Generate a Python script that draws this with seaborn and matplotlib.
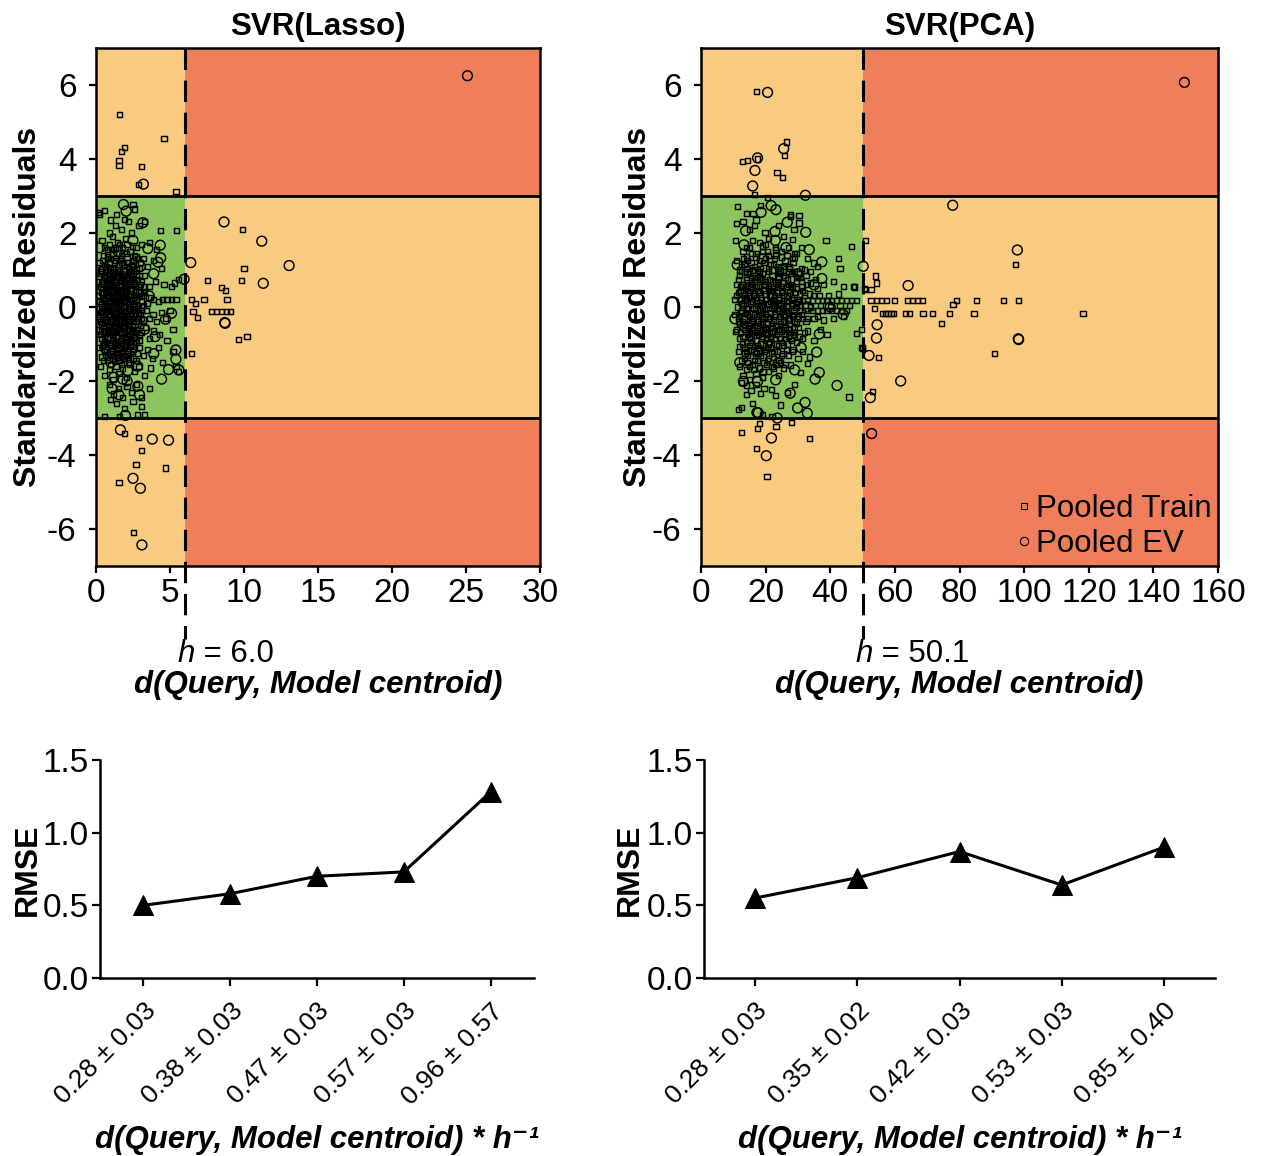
import numpy as np
import pandas as pd
import matplotlib
matplotlib.use("Agg")
import matplotlib.pyplot as plt
import matplotlib.transforms as mtransforms
from matplotlib.lines import Line2D
import seaborn as sns

# ---------------- data ----------------
h_lasso = 6.0
h_pca = 50.1

lasso_train = [
    (1.6, 5.2), (4.6, 4.55), (1.7, 4.2), (1.9, 4.3), (1.55, 3.97), (1.55, 3.83), (3.05, 3.8), (2.85, 3.32), (5.4, 3.13),
    (9.9, 2.1), (10.0, 1.05), (7.55, 0.72), (9.85, 0.72), (8.5, 0.52), (8.75, 0.45), (8.85, 0.2), (7.3, 0.2), (6.45, 0.2),
    (6.7, 0.1), (6.55, -0.12), (6.85, -0.28), (7.8, -0.12), (8.15, -0.12), (8.5, -0.12), (8.8, -0.12), (9.1, -0.12),
    (9.65, -0.88), (10.2, -0.8), (6.45, -1.25),
    (1.95, -3.42), (2.85, -3.53), (3.1, -3.87), (2.7, -4.26), (4.7, -4.35), (1.55, -4.74), (2.55, -6.1),
    (0.25, 2.5), (1.0, 2.35), (1.3, 2.2), (1.9, 2.36), (2.5, 2.78), (2.6, 2.65), (4.35, 2.06), (5.45, 2.06), (0.15, 2.55),
    (0.6, 2.6), (1.4, 2.5), (2.2, 2.3), (0.9, 2.0), (1.7, 2.1), (2.9, 2.2), (3.3, 2.3), (2.4, 2.0),
    (0.4, 1.8), (1.1, 1.9), (1.6, 1.7), (2.0, 1.85), (2.7, 1.6), (3.1, 1.7), (0.8, 1.55), (1.3, 1.6), (2.3, 1.5), (3.6, 1.75), (4.1, 1.55),
    (0.2, 1.2), (0.5, 1.4), (0.7, 1.1), (1.0, 1.3), (1.2, 1.05), (1.5, 1.45), (1.7, 1.2), (1.9, 1.0), (2.1, 1.35), (2.4, 1.15),
    (2.6, 1.4), (2.9, 1.05), (3.2, 1.3), (3.5, 1.1), (3.9, 1.25), (4.4, 1.05), (0.35, 1.0), (1.35, 1.25), (2.2, 1.1), (2.8, 1.3),
    (0.1, 0.7), (0.3, 0.9), (0.5, 0.6), (0.65, 0.85), (0.8, 0.55), (0.95, 0.75), (1.1, 0.95), (1.25, 0.6), (1.4, 0.8), (1.55, 0.55),
    (1.7, 0.9), (1.85, 0.7), (2.0, 0.5), (2.15, 0.8), (2.3, 0.65), (2.5, 0.9), (2.65, 0.55), (2.8, 0.75), (3.0, 0.6), (3.3, 0.85),
    (3.6, 0.55), (4.0, 0.7), (4.6, 0.6), (5.1, 0.55), (5.3, 0.65), (5.6, 0.75), (0.45, 0.5), (1.0, 0.55), (1.6, 0.7), (2.4, 0.5),
    (0.1, 0.3), (0.25, 0.15), (0.4, 0.4), (0.55, 0.05), (0.7, 0.3), (0.85, 0.45), (1.0, 0.1), (1.15, 0.35), (1.3, 0.2), (1.45, 0.45),
    (1.6, 0.05), (1.75, 0.3), (1.9, 0.15), (2.05, 0.4), (2.2, 0.1), (2.35, 0.3), (2.5, 0.2), (2.65, 0.45), (2.8, 0.05), (2.95, 0.3),
    (3.1, 0.15), (3.3, 0.4), (3.5, 0.1), (3.7, 0.25), (3.9, 0.2), (4.2, 0.15), (4.5, 0.2), (4.8, 0.2), (5.1, 0.2), (5.4, 0.2),
    (0.5, 0.25), (1.2, 0.0), (1.8, 0.45), (2.6, 0.0), (3.2, 0.05),
    (0.1, -0.2), (0.3, -0.4), (0.45, -0.1), (0.6, -0.35), (0.75, -0.05), (0.9, -0.25), (1.05, -0.45), (1.2, -0.15), (1.35, -0.3),
    (1.5, -0.05), (1.65, -0.4), (1.8, -0.2), (1.95, -0.35), (2.1, -0.1), (2.25, -0.45), (2.4, -0.2), (2.55, -0.3), (2.7, -0.1),
    (2.85, -0.4), (3.0, -0.2), (3.2, -0.35), (3.4, -0.1), (3.6, -0.3), (3.85, -0.2), (4.1, -0.4), (4.4, -0.15), (4.7, -0.3),
    (5.0, -0.1), (0.2, -0.05), (1.0, -0.1), (1.7, -0.25), (2.3, -0.05),
    (0.15, -0.6), (0.35, -0.85), (0.5, -0.55), (0.7, -0.95), (0.85, -0.7), (1.0, -0.6), (1.15, -0.9), (1.3, -0.65), (1.45, -0.8),
    (1.6, -0.55), (1.75, -1.0), (1.9, -0.7), (2.05, -0.85), (2.2, -0.6), (2.35, -0.95), (2.5, -0.75), (2.7, -0.6), (2.9, -0.9),
    (3.1, -0.7), (3.35, -0.55), (3.6, -0.85), (3.9, -0.65), (4.3, -0.75), (4.8, -0.9), (5.2, -0.6), (0.6, -0.7), (1.4, -0.95), (2.6, -0.8),
    (0.2, -1.1), (0.4, -1.35), (0.6, -1.2), (0.8, -1.45), (1.0, -1.05), (1.2, -1.3), (1.4, -1.15), (1.6, -1.45), (1.8, -1.2),
    (2.0, -1.05), (2.2, -1.35), (2.45, -1.2), (2.7, -1.45), (2.95, -1.1), (3.2, -1.3), (3.5, -1.15), (3.8, -1.4), (4.2, -1.1),
    (4.5, -1.5), (5.2, -1.2), (0.5, -1.0), (1.5, -1.25),
    (0.3, -1.6), (0.6, -1.85), (0.9, -1.7), (1.15, -1.95), (1.35, -1.6), (1.55, -1.8), (1.8, -1.65), (2.05, -1.9), (2.3, -1.55),
    (2.6, -1.75), (2.9, -1.6), (3.3, -1.85), (3.7, -1.65), (5.4, -1.6), (5.6, -1.75),
    (0.9, -2.1), (1.2, -2.35), (1.5, -2.2), (1.8, -2.45), (2.1, -2.15), (2.4, -2.3), (2.75, -2.1), (3.1, -2.45), (3.6, -2.2), (1.0, -2.5),
    (1.4, -2.6), (1.9, -2.75), (2.5, -2.55), (3.05, -2.7), (3.3, -2.9), (1.6, -2.95), (0.6, -2.95), (2.8, -2.9),
]

lasso_train_core = [
    (0.35, 0.95), (0.55, 1.15), (0.75, 1.35), (0.95, 1.05), (1.15, 1.45), (1.35, 0.9), (1.55, 1.15), (1.75, 1.4), (1.95, 0.85),
    (2.15, 1.2), (2.35, 0.95), (2.55, 1.25), (2.75, 1.0),
    (0.4, 0.65), (0.6, 0.8), (0.8, 0.95), (1.0, 0.7), (1.2, 0.85), (1.4, 0.6), (1.6, 0.95), (1.8, 0.8), (2.0, 0.65), (2.2, 0.95),
    (2.4, 0.75), (2.6, 0.65), (2.9, 0.85), (3.1, 0.7),
    (0.3, 0.55), (0.5, 0.35), (0.7, 0.5), (0.9, 0.3), (1.1, 0.55), (1.3, 0.4), (1.5, 0.25), (1.7, 0.6), (1.9, 0.35), (2.1, 0.55),
    (2.3, 0.45), (2.5, 0.6), (2.7, 0.3), (2.9, 0.55),
    (0.35, 0.1), (0.6, 0.2), (0.8, 0.05), (1.05, 0.25), (1.25, 0.1), (1.45, 0.15), (1.65, 0.2), (1.85, 0.0), (2.05, 0.15),
    (2.25, 0.2), (2.45, 0.05), (2.75, 0.2), (3.05, 0.0),
    (0.3, -0.15), (0.5, -0.25), (0.7, -0.1), (0.95, -0.2), (1.15, -0.05), (1.3, -0.15), (1.55, -0.2), (1.75, -0.1), (1.95, -0.15),
    (2.15, -0.25), (2.35, -0.1), (2.6, -0.2), (2.85, -0.15),
    (0.4, -0.45), (0.6, -0.55), (0.8, -0.4), (1.0, -0.35), (1.2, -0.5), (1.4, -0.45), (1.6, -0.3), (1.8, -0.5), (2.0, -0.45),
    (2.2, -0.35), (2.45, -0.5), (2.7, -0.4), (3.0, -0.5),
    (0.3, -0.75), (0.55, -0.8), (0.75, -0.7), (0.95, -0.85), (1.2, -0.75), (1.35, -0.8), (1.55, -0.7), (1.7, -0.85), (1.95, -0.8),
    (2.15, -0.75), (2.4, -0.65), (2.65, -0.7), (2.9, -0.75),
    (0.45, -1.05), (0.7, -1.15), (0.9, -1.0), (1.1, -1.2), (1.3, -1.05), (1.5, -1.1), (1.7, -1.25), (1.9, -1.1), (2.1, -1.2),
    (2.3, -1.05), (2.55, -1.15), (2.8, -1.25),
    (0.5, -1.45), (0.75, -1.35), (1.0, -1.55), (1.25, -1.45), (1.45, -1.35), (1.7, -1.55), (1.95, -1.4), (2.2, -1.5), (2.5, -1.4),
    (0.6, 1.6), (0.9, 1.7), (1.2, 1.55), (1.45, 1.75), (1.8, 1.6), (2.1, 1.7), (2.45, 1.65),
    (1.3, 0.45), (1.6, -0.6), (0.85, 0.6), (2.25, -0.6), (1.05, -0.65), (1.75, 0.45), (0.65, -0.25), (2.0, 0.25), (1.4, -0.25), (0.9, 1.2),
    (0.45, 1.25), (0.65, 1.0), (0.85, 1.3), (1.05, 1.55), (1.25, 1.2), (1.45, 1.0), (1.65, 1.3), (1.85, 1.15), (2.05, 1.45),
    (2.25, 1.05), (2.5, 1.1), (2.7, 1.35), (3.0, 1.2),
    (0.5, 0.8), (0.7, 0.7), (0.9, 0.9), (1.1, 0.8), (1.3, 0.7), (1.5, 0.85), (1.7, 0.75), (1.9, 0.6), (2.1, 0.75), (2.3, 0.85),
    (2.5, 0.7), (2.75, 0.85), (3.2, 0.55),
    (0.45, 0.2), (0.65, 0.4), (0.85, 0.15), (1.05, 0.45), (1.2, 0.3), (1.4, 0.35), (1.6, 0.4), (1.8, 0.25), (2.0, 0.4),
    (2.2, 0.3), (2.4, 0.35), (2.6, 0.25), (2.85, 0.4), (3.2, 0.3),
    (0.4, -0.05), (0.6, 0.0), (0.85, -0.1), (1.1, 0.05), (1.35, 0.0), (1.55, 0.05), (1.75, 0.1), (1.95, 0.05), (2.2, -0.05),
    (2.5, 0.1), (2.8, -0.05), (3.1, -0.1),
    (0.45, -0.3), (0.7, -0.4), (0.9, -0.5), (1.1, -0.3), (1.3, -0.4), (1.5, -0.35), (1.7, -0.45), (1.9, -0.3), (2.1, -0.4),
    (2.3, -0.3), (2.55, -0.4), (2.8, -0.3), (3.1, -0.3),
    (0.4, -0.65), (0.65, -0.65), (0.85, -0.6), (1.1, -0.7), (1.3, -0.55), (1.5, -0.6), (1.7, -0.7), (1.9, -0.55), (2.1, -0.65),
    (2.3, -0.8), (2.55, -0.6), (2.8, -0.6),
    (0.55, -0.95), (0.8, -0.85), (1.0, -0.95), (1.25, -0.95), (1.45, -1.0), (1.65, -0.9), (1.85, -0.95), (2.05, -1.0),
    (2.3, -0.9), (2.5, -1.0), (2.75, -0.95),
    (0.65, -1.3), (0.95, -1.25), (1.15, -1.4), (1.4, -1.25), (1.6, -1.35), (1.85, -1.3), (2.05, -1.3), (2.35, -1.25),
]

lasso_ev = [
    (25.1, 6.25), (3.2, 3.32), (8.65, 2.3), (11.2, 1.78), (13.05, 1.12), (6.4, 1.2), (5.95, 0.75), (11.3, 0.64),
    (8.7, -0.42), (8.72, -0.44), (1.65, -3.32), (3.8, -3.57), (4.9, -3.6), (2.5, -4.63), (3.0, -4.9), (3.1, -6.43),
    (3.17, 2.28), (3.5, 1.58), (4.34, 1.67), (4.37, 1.33), (4.19, 1.21), (0.23, 1.6), (3.9, -1.26), (5.4, -1.16),
    (5.4, -1.41), (4.9, -1.69), (4.43, -1.95), (5.6, -1.7), (5.1, -0.17), (4.7, -0.33), (2.83, -2.14), (2.94, -2.37),
    (1.54, -2.37), (1.09, -2.21), (1.81, -1.95), (2.15, -1.72), (1.86, 2.77), (2.04, 2.59), (1.99, -2.93),
    (0.8, 0.2), (1.3, -0.6), (2.0, 0.9), (1.1, 1.2), (2.6, -0.9), (1.7, 0.5), (0.6, -1.1), (2.3, -0.3), (1.5, 1.5),
    (2.9, 0.4), (0.4, -0.3), (1.9, -1.3), (3.3, -0.6), (2.5, 1.8), (1.2, -1.9), (3.0, 1.1), (0.9, 0.8), (2.1, -2.0),
    (3.6, 0.3), (1.6, -0.2), (4.0, -0.8), (2.8, -1.6), (3.9, 0.9), (1.0, -1.5), (0.5, 1.0),
]

pca_train = [
    (17.2, 5.83), (26.4, 4.46), (25.9, 4.09), (12.8, 3.93), (14.4, 3.96), (17.6, 4.0), (23.5, 3.63), (25.2, 3.49), (16.6, 3.05),
    (12.6, -3.4), (17.4, -3.28), (18.2, -3.14), (23.2, -3.22), (28.0, -3.12), (33.5, -3.56), (17.3, -3.82), (20.4, -4.59),
    (97.3, 1.14), (54.0, 0.84), (54.3, 0.65), (52.6, 0.48), (50.5, 0.5), (47.2, 0.56),
    (52.6, 0.18), (54.2, 0.18), (55.8, 0.18), (57.4, 0.18), (59.8, 0.18), (63.8, 0.18), (65.4, 0.18), (67.0, 0.18),
    (68.6, 0.18), (79.0, 0.18), (85.2, 0.18), (93.7, 0.18), (98.2, 0.18), (78.0, 0.07),
    (56.2, -0.17), (57.1, -0.17), (57.9, -0.17), (58.8, -0.17), (59.6, -0.17), (63.4, -0.17), (64.6, -0.17), (68.7, -0.17),
    (71.6, -0.17), (77.0, -0.17), (84.5, -0.17), (118.2, -0.17),
    (74.5, -0.45), (90.9, -1.26), (54.9, -1.37), (53.1, -2.29), (45.8, -2.43), (53.6, -0.05), (49.8, -1.1),
    (48.0, -0.71), (49.7, -0.6), (49.9, -1.12), (10.8, -0.66), (11.9, -1.07),
    (11.4, 2.72), (14.1, 2.53), (16.1, 2.53), (17.0, 2.35), (16.5, 2.2), (27.6, 2.51), (30.3, 2.47), (30.3, 2.27), (27.8, 2.45),
    (11.0, 2.26), (13.0, 2.3), (15.0, 2.1), (19.8, 2.02), (25.5, 1.9), (28.8, 2.09), (28.2, 1.83), (38.7, 1.79), (46.6, 1.64),
    (51.0, 1.79), (42.5, 1.3), (43.0, 1.05), (47.4, 0.54), (51.0, 0.47), (10.8, 1.79), (11.0, 1.25), (29.6, 1.45), (34.7, 1.19),
    (18.0, 1.75), (21.0, 1.85), (23.0, 1.6), (14.0, 1.6), (16.0, 1.8), (24.0, 2.2), (18.5, 2.75), (20.5, 2.95),
    (12.5, 1.1), (14.0, 1.35), (15.5, 1.2), (17.0, 1.45), (18.5, 1.05), (20.0, 1.3), (21.5, 1.15), (23.0, 1.4), (24.5, 1.0),
    (26.0, 1.25), (27.5, 1.1), (29.0, 1.35), (31.0, 1.05), (33.0, 1.3), (36.0, 1.1), (16.0, 1.0), (19.0, 1.5), (22.0, 1.0),
    (11.0, 0.6), (12.0, 0.85), (13.0, 0.55), (14.0, 0.75), (15.0, 0.95), (16.0, 0.6), (17.0, 0.8), (18.0, 0.55), (19.0, 0.9),
    (20.0, 0.7), (21.0, 0.5), (22.0, 0.85), (23.0, 0.65), (24.0, 0.95), (25.0, 0.55), (26.0, 0.8), (27.0, 0.6), (28.0, 0.9),
    (29.5, 0.7), (31.0, 0.55), (32.5, 0.85), (34.0, 0.65), (35.5, 0.75), (38.0, 0.6), (41.0, 0.7), (44.0, 0.55), (13.5, 0.95),
    (18.0, 0.75), (24.0, 0.7),
    (10.5, 0.2), (11.5, 0.4), (12.5, 0.1), (13.5, 0.3), (14.5, 0.45), (15.5, 0.15), (16.5, 0.35), (17.5, 0.05), (18.5, 0.25),
    (19.5, 0.45), (20.5, 0.1), (21.5, 0.3), (22.5, 0.2), (23.5, 0.4), (24.5, 0.05), (25.5, 0.3), (26.5, 0.15), (27.5, 0.4),
    (28.5, 0.2), (29.5, 0.1), (30.5, 0.35), (31.5, 0.18), (33.0, 0.18), (34.5, 0.18), (36.0, 0.18), (37.5, 0.18), (39.0, 0.18),
    (40.5, 0.18), (42.0, 0.18), (43.5, 0.18), (45.0, 0.18), (46.5, 0.18), (48.0, 0.18), (32.0, 0.4), (35.0, 0.3), (14.0, 0.2),
    (19.0, 0.0), (23.0, 0.1),
    (10.5, -0.2), (11.5, -0.4), (12.5, -0.1), (13.5, -0.3), (14.5, -0.05), (15.5, -0.45), (16.5, -0.2), (17.5, -0.35),
    (18.5, -0.1), (19.5, -0.3), (20.5, -0.45), (21.5, -0.15), (22.5, -0.35), (23.5, -0.05), (24.5, -0.25), (25.5, -0.4),
    (26.5, -0.1), (27.5, -0.3), (28.5, -0.2), (29.5, -0.45), (30.5, -0.1), (31.5, -0.3), (33.0, -0.1), (34.5, -0.1),
    (36.0, -0.1), (37.5, -0.1), (39.0, -0.1), (40.5, -0.1), (42.0, -0.1), (43.5, -0.1), (45.0, -0.1), (32.5, -0.4),
    (35.0, -0.3), (38.0, -0.35), (41.0, -0.3), (44.0, -0.25),
    (11.0, -0.6), (12.0, -0.85), (13.0, -0.55), (14.0, -0.95), (15.0, -0.7), (16.0, -0.6), (17.0, -0.9), (18.0, -0.65),
    (19.0, -0.8), (20.0, -0.55), (21.0, -1.0), (22.0, -0.7), (23.0, -0.85), (24.0, -0.6), (25.0, -0.95), (26.0, -0.75),
    (27.0, -0.6), (28.0, -0.9), (29.0, -0.7), (30.0, -0.55), (31.5, -0.85), (33.0, -0.65), (35.0, -0.9), (37.0, -0.6),
    (39.0, -0.75), (15.5, -0.85), (20.5, -0.75),
    (11.5, -1.2), (12.5, -1.45), (13.5, -1.1), (14.5, -1.3), (15.5, -1.15), (16.5, -1.45), (17.5, -1.05), (18.5, -1.3),
    (19.5, -1.2), (20.5, -1.45), (21.5, -1.1), (22.5, -1.35), (23.5, -1.2), (24.5, -1.5), (25.5, -1.05), (27.0, -1.3),
    (28.5, -1.15), (30.0, -1.4), (31.5, -1.2), (33.5, -1.35),
    (12.0, -1.6), (13.0, -1.85), (14.0, -1.7), (15.0, -1.95), (16.0, -1.55), (17.0, -1.8), (18.0, -1.65), (19.0, -1.9),
    (20.8, -1.74), (22.0, -1.6), (24.0, -1.85), (25.5, -1.65), (27.8, -1.57), (30.7, -1.77), (32.9, -1.52),
    (12.5, -2.05), (14.1, -2.13), (14.1, -2.37), (15.5, -2.25), (17.0, -2.1), (18.5, -2.33), (19.5, -2.2), (21.7, -2.22),
    (23.0, -2.4), (26.7, -2.31), (29.0, -2.1),
    (12.6, -2.71), (11.6, -2.77), (16.0, -2.6), (19.0, -2.9), (22.0, -2.95), (24.5, -2.65),
]

pca_train_core = [
    (13.0, 1.5), (15.0, 1.6), (17.0, 1.35), (19.0, 1.65), (21.0, 1.4), (23.0, 1.55), (25.0, 1.35), (27.0, 1.6), (29.0, 1.45),
    (31.0, 1.6), (14.5, 1.25), (20.0, 1.7),
    (12.0, 1.0), (13.5, 1.15), (15.0, 0.9), (16.5, 1.1), (18.0, 0.95), (19.5, 1.2), (21.0, 0.95), (22.5, 1.15), (24.0, 0.9),
    (25.5, 1.1), (27.0, 0.95), (28.5, 1.2), (30.0, 0.9), (32.0, 1.0), (34.0, 0.95),
    (11.5, 0.75), (12.8, 0.6), (14.2, 0.8), (15.6, 0.65), (17.0, 0.55), (18.4, 0.8), (19.8, 0.6), (21.2, 0.75), (22.6, 0.55),
    (24.0, 0.8), (25.4, 0.65), (26.8, 0.75), (28.2, 0.55), (29.6, 0.8), (31.0, 0.7), (33.0, 0.6), (36.0, 0.5),
    (11.0, 0.3), (12.3, 0.45), (13.6, 0.25), (14.9, 0.4), (16.2, 0.3), (17.5, 0.45), (18.8, 0.2), (20.1, 0.35), (21.4, 0.45),
    (22.7, 0.3), (24.0, 0.25), (25.3, 0.45), (26.6, 0.3), (27.9, 0.25), (29.2, 0.4), (30.5, 0.2), (33.5, 0.35), (36.5, 0.3),
    (39.5, 0.3), (42.5, 0.35),
    (11.2, 0.0), (12.6, 0.1), (14.0, -0.05), (15.4, 0.1), (16.8, 0.0), (18.2, 0.12), (19.6, -0.05), (21.0, 0.08), (22.4, 0.0),
    (23.8, 0.1), (25.2, -0.05), (26.6, 0.05), (28.0, 0.1), (29.4, -0.02), (30.8, 0.05), (32.2, 0.05), (34.0, 0.0), (37.0, 0.05),
    (40.0, 0.02), (43.0, 0.05), (46.0, 0.05),
    (11.5, -0.25), (12.9, -0.4), (14.3, -0.2), (15.7, -0.35), (17.1, -0.25), (18.5, -0.45), (19.9, -0.2), (21.3, -0.3),
    (22.7, -0.2), (24.1, -0.4), (25.5, -0.25), (26.9, -0.35), (28.3, -0.25), (29.7, -0.3), (31.1, -0.2), (33.0, -0.3), (36.0, -0.25),
    (12.2, -0.7), (13.6, -0.6), (15.0, -0.8), (16.4, -0.55), (17.8, -0.75), (19.2, -0.6), (20.6, -0.85), (22.0, -0.55),
    (23.4, -0.75), (24.8, -0.65), (26.2, -0.85), (27.6, -0.7), (29.0, -0.55), (30.4, -0.8), (32.0, -0.7),
    (12.8, -1.0), (14.2, -1.2), (15.6, -0.95), (17.0, -1.25), (18.4, -1.0), (19.8, -1.15), (21.2, -0.95), (22.6, -1.2),
    (24.0, -1.05), (25.4, -1.25), (26.8, -1.0), (28.2, -1.2), (29.6, -0.95),
    (13.5, -1.4), (15.0, -1.6), (16.5, -1.45), (18.0, -1.65), (19.5, -1.5), (21.0, -1.4), (22.5, -1.65), (24.0, -1.45), (26.0, -1.55),
    (13.2, 1.3), (15.8, 1.45), (18.2, 1.25), (20.6, 1.5), (22.8, 1.3), (24.8, 1.5), (26.6, 1.4), (28.4, 1.3),
    (12.6, 0.95), (14.0, 1.05), (15.8, 0.8), (17.4, 1.0), (19.0, 0.75), (20.8, 1.05), (22.2, 0.7), (23.8, 1.1), (25.6, 0.85),
    (27.4, 1.05), (29.0, 0.95), (30.8, 0.8),
    (12.2, 0.55), (13.8, 0.5), (15.2, 0.55), (16.6, 0.7), (18.0, 0.4), (19.4, 0.6), (20.8, 0.55), (22.2, 0.45), (23.6, 0.6),
    (25.0, 0.4), (26.4, 0.55), (27.8, 0.6), (29.4, 0.5), (31.5, 0.45),
    (12.0, 0.2), (13.2, 0.05), (14.6, 0.25), (16.0, 0.15), (17.2, 0.25), (18.6, 0.05), (20.0, 0.2), (21.4, 0.15), (22.8, 0.05),
    (24.2, 0.2), (25.6, 0.1), (27.0, 0.25), (28.4, 0.05), (30.0, 0.15),
    (12.4, -0.15), (13.8, -0.15), (15.0, -0.25), (16.4, -0.05), (17.8, -0.2), (19.0, -0.15), (20.4, -0.25), (21.8, -0.05),
    (23.0, -0.25), (24.4, -0.1), (25.8, -0.2), (27.2, -0.15), (28.8, -0.1), (30.2, -0.25),
    (12.0, -0.45), (13.4, -0.5), (14.8, -0.55), (16.2, -0.4), (17.6, -0.55), (19.0, -0.4), (20.4, -0.6), (21.8, -0.45),
    (23.2, -0.5), (24.6, -0.45), (26.0, -0.55), (27.4, -0.45), (29.0, -0.4),
    (13.0, -0.8), (14.4, -0.75), (15.8, -0.65), (17.2, -0.7), (18.6, -0.85), (20.0, -0.7), (21.4, -0.8), (22.8, -0.65),
    (24.2, -0.85), (25.6, -0.6), (27.0, -0.8), (28.6, -0.75),
    (13.6, -1.25), (15.0, -1.05), (16.4, -1.2), (17.8, -1.1), (19.2, -1.35), (20.6, -1.1), (22.0, -1.25), (23.4, -1.0),
    (24.8, -1.3), (26.4, -1.15),
    (14.4, -1.5), (16.2, -1.7), (17.6, -1.45), (19.2, -1.75), (20.2, -1.55), (23.2, -1.55),
]

pca_ev = [
    (149.6, 6.07), (20.6, 5.8), (25.6, 4.28), (17.5, 4.03), (16.7, 3.69), (16.0, 3.27), (32.3, 3.02), (77.9, 2.75),
    (97.9, 1.54), (50.2, 1.1), (64.1, 0.58), (54.5, -0.48), (54.3, -0.84), (98.2, -0.86), (98.3, -0.88), (52.0, -1.31),
    (61.8, -2.0), (52.4, -2.45), (42.1, -2.12), (52.8, -3.42), (23.6, -3.0), (21.8, -3.54), (20.2, -4.02), (17.3, -2.85),
    (21.7, 2.74), (23.2, 2.63), (18.6, 2.56), (26.7, 2.29), (13.8, 2.06), (22.9, 2.04), (32.4, 2.02), (13.3, 1.68),
    (26.3, 1.61), (33.5, 1.55), (37.4, 1.22), (37.4, 0.77), (11.2, 1.14), (10.5, -0.32), (36.6, -0.73), (35.8, -1.22),
    (36.6, -1.77), (35.3, -1.95), (23.1, -1.97), (13.1, -2.01), (17.5, -2.01), (27.6, -2.33), (32.2, -2.58),
    (29.9, -2.73), (32.9, -2.87), (17.7, -2.86),
    (15.0, 0.5), (20.0, -0.5), (25.0, 1.0), (18.0, -1.2), (22.0, 0.3), (28.0, -0.8), (14.0, -0.3), (30.0, 0.9),
    (24.0, -1.5), (19.0, 1.3), (26.0, -0.2), (16.0, 0.9), (31.0, -1.1), (21.0, -0.9), (13.0, 0.4), (27.0, 0.5),
    (33.0, 0.0), (17.0, -0.6), (23.0, 1.8), (29.0, -1.7), (40.0, 0.0), (44.0, -0.2), (12.0, -1.5), (35.0, 0.6),
]

rmse_lasso_labels = ["0.28 ± 0.03", "0.38 ± 0.03", "0.47 ± 0.03", "0.57 ± 0.03", "0.96 ± 0.57"]
rmse_lasso = [0.50, 0.58, 0.70, 0.73, 1.28]
rmse_pca_labels = ["0.28 ± 0.03", "0.35 ± 0.02", "0.42 ± 0.03", "0.53 ± 0.03", "0.85 ± 0.40"]
rmse_pca = [0.55, 0.69, 0.87, 0.64, 0.90]

# ---------------- style ----------------
sns.set_theme(style="white")
FAM = ["Liberation Sans", "DejaVu Sans"]
plt.rcParams["font.family"] = FAM
plt.rcParams["axes.unicode_minus"] = False
for k in ["text.color", "axes.labelcolor", "xtick.color", "ytick.color", "axes.edgecolor"]:
    plt.rcParams[k] = "black"
plt.rcParams["axes.linewidth"] = 1.6
plt.rcParams["xtick.major.width"] = 1.6
plt.rcParams["ytick.major.width"] = 1.6

YELLOW = "#F9CB80"
RED = "#EE7F5A"
GREEN = "#8CC45E"
FS = 22.5
TFS = 24

W, H = 1262, 1156
fig = plt.figure(figsize=(W / 100, H / 100), dpi=100)


def px_axes(l, r, t, b):
    return fig.add_axes([l / W, (H - b) / H, (r - l) / W, (b - t) / H])


def scatter_panel(ax, train, train_core, ev, h, xmax, xticks, title, ylab_x, show_legend=False):
    ax.set_xlim(0, xmax)
    ax.set_ylim(-7, 7)
    ax.axhspan(-7, 7, color=YELLOW, zorder=0, lw=0)
    fr = h / xmax
    ax.axhspan(3, 7, xmin=fr, xmax=1, color=RED, zorder=0.5, lw=0)
    ax.axhspan(-7, -3, xmin=fr, xmax=1, color=RED, zorder=0.5, lw=0)
    ax.axhspan(-3, 3, xmin=0, xmax=fr, color=GREEN, zorder=0.5, lw=0)
    ax.axhline(3, color="black", lw=2.0, zorder=1)
    ax.axhline(-3, color="black", lw=2.0, zorder=1)
    trans = mtransforms.blended_transform_factory(ax.transData, ax.transAxes)
    ax.plot([h, h], [1, -0.14], transform=trans, color="black", lw=2.2,
            linestyle=(0, (7, 3.5)), clip_on=False, zorder=1)

    dt = pd.DataFrame(list(train) + list(train_core), columns=["d", "res"])
    de = pd.DataFrame(ev, columns=["d", "res"])
    sns.scatterplot(data=dt, x="d", y="res", marker="s", s=14, facecolor="none",
                    edgecolor="black", linewidth=1.05, ax=ax, zorder=3)
    sns.scatterplot(data=de, x="d", y="res", marker="o", s=50, facecolor="none",
                    edgecolor="black", linewidth=1.05, ax=ax, zorder=3)

    ax.set_xticks(xticks)
    ax.set_yticks([-6, -4, -2, 0, 2, 4, 6])
    ax.tick_params(axis="both", labelsize=TFS, length=5, direction="out",
                   left=True, bottom=True)
    ax.tick_params(axis="y", pad=9)
    ax.tick_params(axis="x", pad=4)
    for s in ax.spines.values():
        s.set_color("black")
        s.set_linewidth(1.8)
        s.set_zorder(5)
    ax.set_xlabel("")
    ax.set_ylabel("")
    ax.set_title(title, fontsize=FS, fontweight="bold", pad=9)
    ax.text(ylab_x, 0.5, "Standardized Residuals", transform=ax.transAxes,
            rotation=90, ha="center", va="center", fontsize=23, fontweight="bold")
    # h label: italic h followed by regular text
    tx = ax.annotate("h", xy=(h, -0.17), xycoords=trans, xytext=(-7, 0),
                     textcoords="offset pixels", ha="left", va="center",
                     fontsize=FS, fontstyle="italic")
    ax.annotate(f" = {h:.1f}", xy=(1, 0.5), xycoords=tx, xytext=(0, 0),
                textcoords="offset pixels", ha="left", va="center", fontsize=FS)
    ax.text(0.5, -0.23, "d(Query, Model centroid)", transform=ax.transAxes,
            ha="center", va="center", fontsize=FS, fontweight="bold", fontstyle="italic")
    if show_legend:
        handles = [
            Line2D([], [], marker="s", ls="none", markersize=4, markerfacecolor="none",
                   markeredgecolor="black", markeredgewidth=0.8, label="Pooled Train"),
            Line2D([], [], marker="o", ls="none", markersize=6, markerfacecolor="none",
                   markeredgecolor="black", markeredgewidth=0.8, label="Pooled EV"),
        ]
        ax.legend(handles=handles, loc="lower right", frameon=False, fontsize=FS,
                  handlelength=0.4, handletextpad=0.2, labelspacing=0.15,
                  borderaxespad=0.0, bbox_to_anchor=(1.012, -0.01))
    elif ax.get_legend() is not None:
        ax.get_legend().remove()


def rmse_panel(ax, labels, vals, ylab_x):
    x = np.arange(len(vals))
    sns.lineplot(x=x, y=vals, ax=ax, color="black", lw=2.2, marker="^",
                 markersize=14, markeredgecolor="black", markerfacecolor="black")
    ax.set_xlim(-0.5, len(vals) - 0.5)
    ax.set_ylim(0, 1.5)
    ax.set_yticks([0.0, 0.5, 1.0, 1.5])
    ax.set_yticklabels(["0.0", "0.5", "1.0", "1.5"])
    ax.set_xticks(x)
    ax.set_xticklabels(labels, rotation=45, ha="right", rotation_mode="anchor", fontsize=19)
    ax.tick_params(axis="y", labelsize=TFS, length=6, direction="out", left=True, pad=2)
    ax.tick_params(axis="x", length=6, direction="out", bottom=True, pad=9)
    for k in ["top", "right"]:
        ax.spines[k].set_visible(False)
    for k in ["left", "bottom"]:
        ax.spines[k].set_color("black")
        ax.spines[k].set_linewidth(1.8)
    ax.set_xlabel("")
    ax.set_ylabel("")
    ax.text(ylab_x, 0.495, "RMSE", transform=ax.transAxes, rotation=90,
            ha="center", va="center", fontsize=23, fontweight="bold")
    ax.text(0.5, -0.745, "d(Query, Model centroid) * h\u207b\u00b9", transform=ax.transAxes,
            ha="center", va="center", fontsize=FS, fontweight="bold", fontstyle="italic",
            family=FAM)


ax1 = px_axes(96, 540, 48, 566)
ax2 = px_axes(701, 1218, 48, 566)
ax3 = px_axes(100, 534, 760, 978)
ax4 = px_axes(704, 1215, 760, 978)

scatter_panel(ax1, lasso_train, lasso_train_core, lasso_ev, h_lasso, 30,
              [0, 5, 10, 15, 20, 25, 30], "SVR(Lasso)", -0.153)
scatter_panel(ax2, pca_train, pca_train_core, pca_ev, h_pca, 160,
              [0, 20, 40, 60, 80, 100, 120, 140, 160], "SVR(PCA)", -0.122, show_legend=True)
rmse_panel(ax3, rmse_lasso_labels, rmse_lasso, -0.166)
rmse_panel(ax4, rmse_pca_labels, rmse_pca, -0.145)

fig.savefig("out.png", dpi=100)
